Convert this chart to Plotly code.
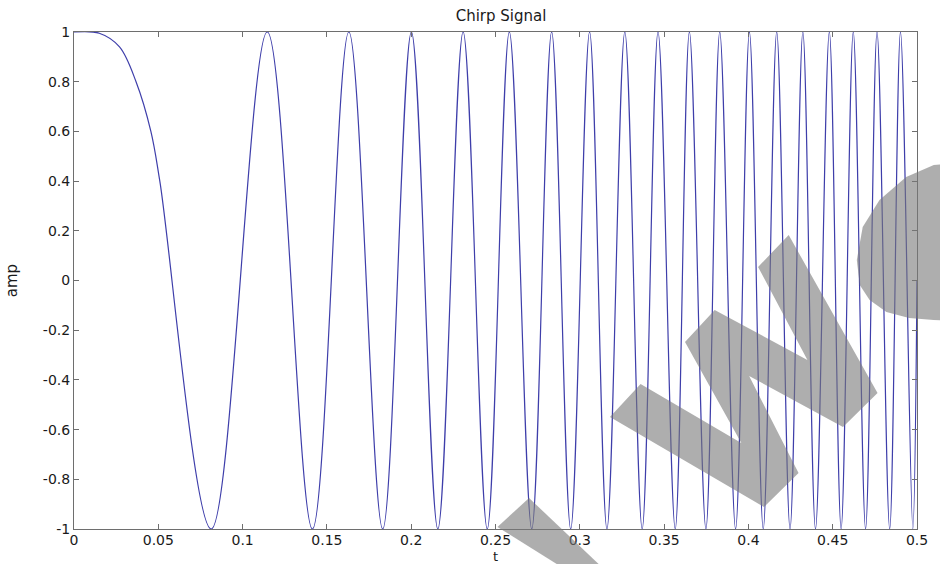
import plotly.graph_objects as go

# ---- data ----
# times of the extrema (and a few points in the first lobe) of the chirp, in s
t_vals = [0.0, 0.015, 0.027, 0.0368, 0.0456, 0.0509, 0.0814,
          0.1146, 0.1414, 0.163, 0.1831, 0.2001, 0.2158, 0.2308, 0.2451,
          0.2582, 0.2715, 0.2833, 0.2946, 0.3058, 0.3161, 0.3267, 0.337,
          0.3464, 0.3566, 0.365, 0.3748, 0.383, 0.3924, 0.4006, 0.4088,
          0.4168, 0.4247, 0.4323, 0.4398, 0.448, 0.455, 0.4622, 0.4695,
          0.4763, 0.4838, 0.4902, 0.4975, 0.5]
amp_vals = [1.0, 0.995, 0.94, 0.8, 0.6, 0.4, -1.0,
            1, -1, 1, -1, 1, -1, 1, -1,
            1, -1, 1, -1, 1, -1, 1, -1,
            1, -1, 1, -1, 1, -1, 1, -1,
            1, -1, 1, -1, 1, -1, 1, -1,
            1, -1, 1, -1, 0.0]

x_tick_vals = [0, 0.05, 0.1, 0.15, 0.2, 0.25, 0.3, 0.35, 0.4, 0.45, 0.5]
x_tick_text = ["0", "0.05", "0.1", "0.15", "0.2", "0.25", "0.3", "0.35", "0.4", "0.45", "0.5"]
y_tick_vals = [-1, -0.8, -0.6, -0.4, -0.2, 0, 0.2, 0.4, 0.6, 0.8, 1]
y_tick_text = ["-1", "-0.8", "-0.6", "-0.4", "-0.2", "0", "0.2", "0.4", "0.6", "0.8", "1"]

title_text = "Chirp Signal"
x_label = "t"
y_label = "amp"

# ---- layout geometry ----
W, H = 940, 564
ML, MR, MT, MB = 74, 12, 32, 35
PW = W - ML - MR
PH = H - MT - MB

FONT = "DejaVu Sans, Liberation Sans, Arial, sans-serif"
AXC = "#6e6e6e"

fig = go.Figure()
fig.add_trace(go.Scatter(
    x=t_vals, y=amp_vals, mode="lines",
    line=dict(color="rgb(62,62,170)", width=1.2, shape="spline", smoothing=1.0),
    hoverinfo="skip", showlegend=False,
))

axis_common = dict(
    showline=True, linecolor=AXC, linewidth=1, mirror="ticks",
    ticks="inside", ticklen=5, tickcolor=AXC, tickwidth=1,
    showgrid=False, zeroline=False,
    tickfont=dict(family=FONT, size=14, color="#1a1a1a"),
)
fig.update_xaxes(range=[0, 0.5], tickvals=x_tick_vals, ticktext=x_tick_text,
                 ticklabelstandoff=-2, **axis_common)
fig.update_yaxes(range=[-1, 1], tickvals=y_tick_vals, ticktext=y_tick_text, **axis_common)


def px2paper(px, py):
    return (px - ML) / PW, (H - MB - py) / PH


def poly_path(pts):
    s = []
    for i, (px, py) in enumerate(pts):
        x, y = px2paper(px, py)
        s.append(("M" if i == 0 else "L") + f"{x:.4f},{y:.4f}")
    return " ".join(s) + " Z"


# watermark (grey translucent strokes)
wm_W = [(648, 384), (750, 443), (693, 342), (723, 310), (817, 360), (767, 267),
        (798, 235), (888, 393), (853, 427), (758, 376), (808, 473), (773, 507),
        (617, 417)]
wm_bottom = [(503, 527), (535, 498), (614, 572), (576, 572)]
wm_C = [(1000, 160), (945, 165), (917, 177), (890, 200), (873, 227), (867, 260),
        (870, 285), (880, 300), (897, 312), (920, 318), (945, 320), (1000, 322)]

shapes = []
for pts in (wm_W, wm_bottom, wm_C):
    shapes.append(dict(type="path", xref="paper", yref="paper", path=poly_path(pts),
                       fillcolor="rgba(120,120,120,0.6)", line=dict(width=0),
                       layer="above"))

annotations = [
    dict(text=x_label, xref="paper", yref="paper", x=0.5, y=px2paper(0, 556)[1],
         xanchor="center", yanchor="middle", showarrow=False, borderpad=0,
         font=dict(family=FONT, size=13, color="#1a1a1a")),
    dict(text=y_label, xref="paper", yref="paper", x=px2paper(11, 0)[0], y=0.5,
         xanchor="center", yanchor="middle", showarrow=False, textangle=-90,
         font=dict(family=FONT, size=15, color="#1a1a1a")),
]

fig.update_layout(
    width=W, height=H,
    margin=dict(l=ML, r=MR, t=MT, b=MB, pad=0),
    paper_bgcolor="white", plot_bgcolor="white",
    showlegend=False,
    title=dict(text=title_text, x=(ML + PW / 2) / W, xanchor="center",
               y=1 - 16 / H, yanchor="middle", yref="container",
               font=dict(family=FONT, size=15, color="#1a1a1a")),
    shapes=shapes,
    annotations=annotations,
)

fig.write_html("out.html",
               config={"displayModeBar": False},
               post_script="document.body.style.margin='0px';"
                           "document.body.style.overflow='hidden';")
